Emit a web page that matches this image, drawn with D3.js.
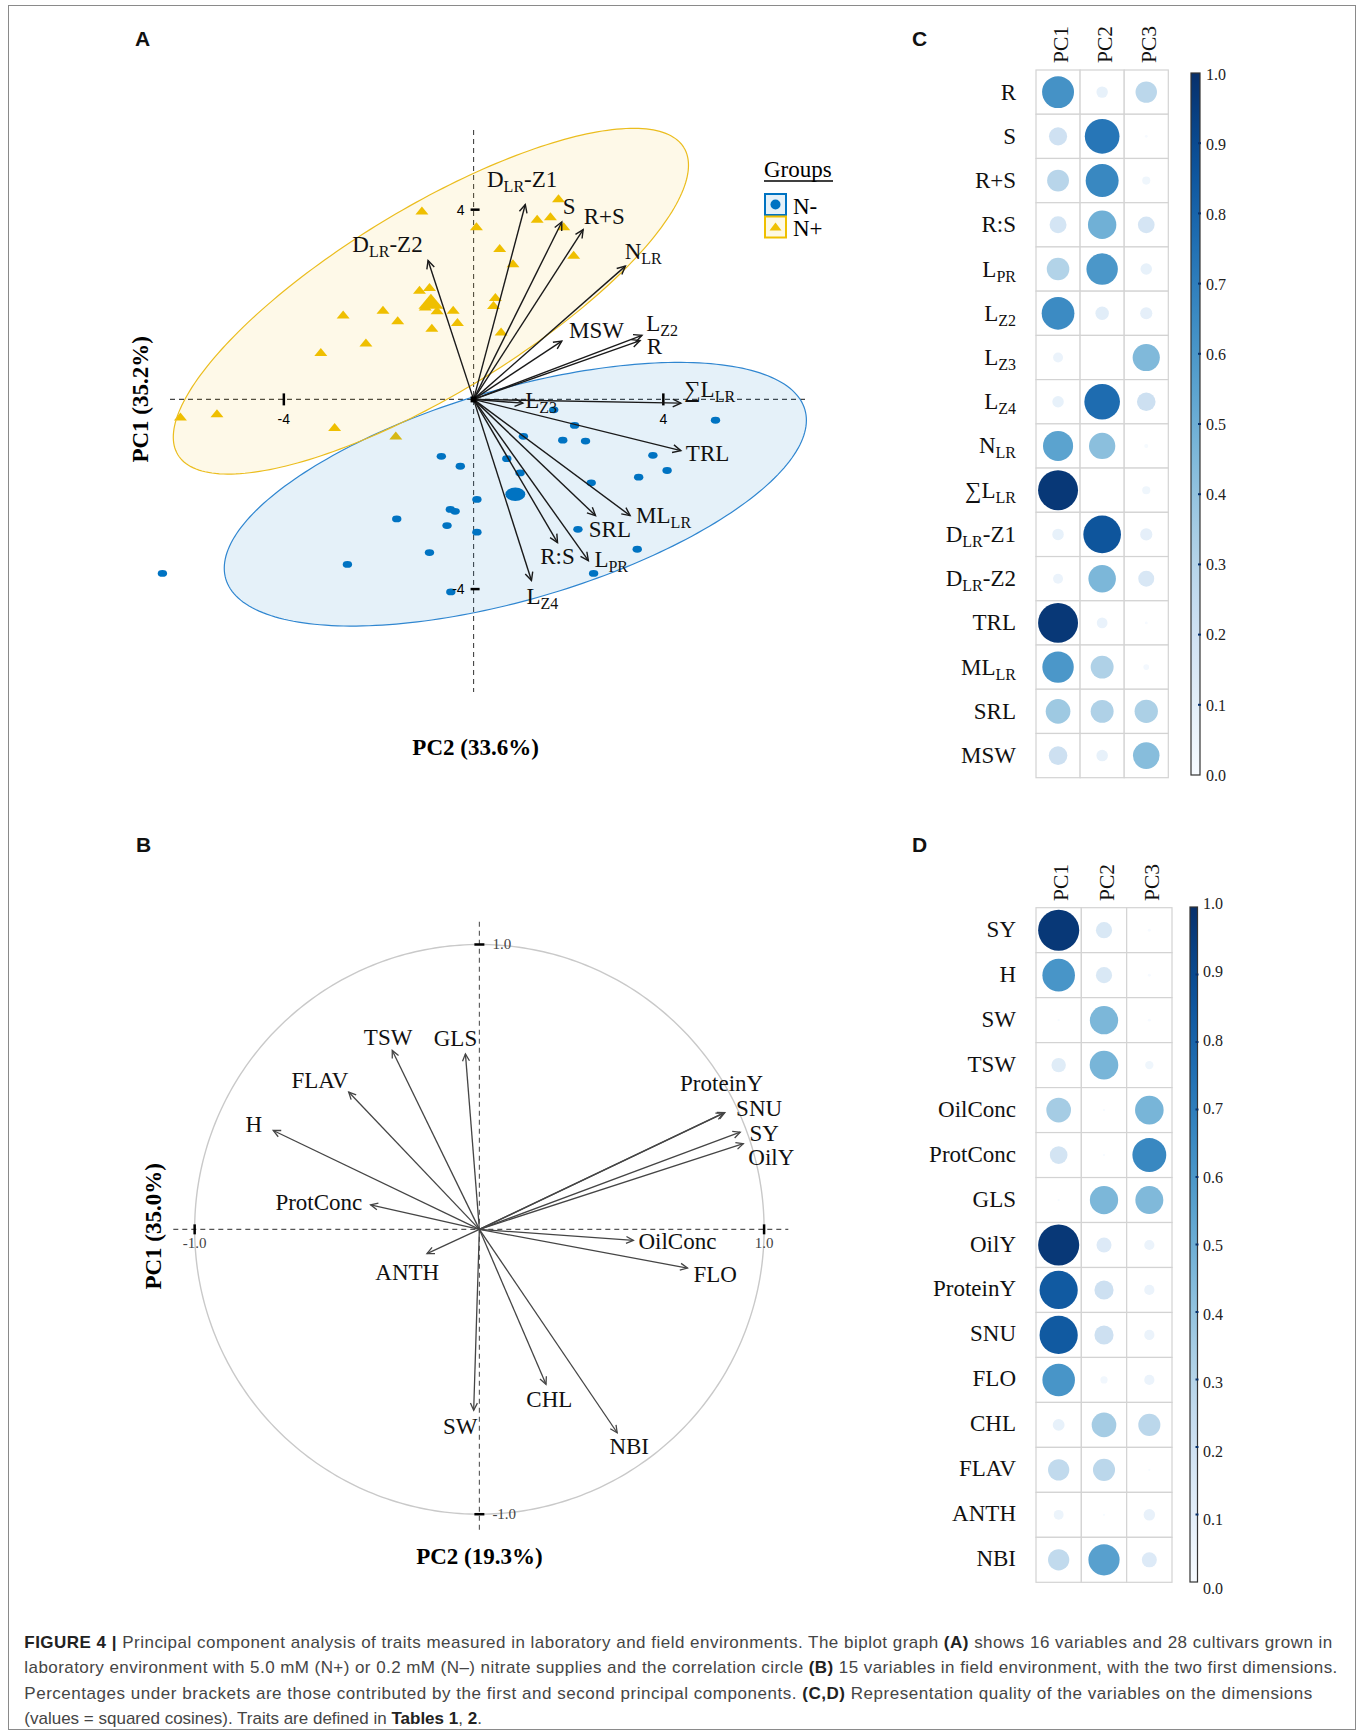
<!DOCTYPE html>
<html>
<head>
<meta charset="utf-8">
<script src="https://cdn.jsdelivr.net/npm/d3@7"></script>
<style>
  body { margin: 0; background: #fff; }
  svg text { font-family: "Liberation Serif", "Times New Roman", serif; }
</style>
</head>
<body>
<svg id="fig" width="1363" height="1733"></svg>
<script>
// ---------------- Panel A: laboratory biplot (individuals + variables) ----------------
const groupNames = ["N-", "N+"];
const groupColors = ["#0073C2", "#EFC000"];

// cultivar scores [PC2, PC1] for each nitrate level
const cultivarsNminus = [
  [-0.68,-1.20],[-0.28,-1.41],[0.07,-2.11],[-0.49,-2.32],[-0.39,-2.36],[-1.62,-2.52],
  [-0.56,-2.66],[0.07,-2.80],[-0.93,-3.23],[-2.66,-3.48],[-6.56,-3.67],[-0.48,-4.06],
  [1.05,-0.78],[0.70,-1.25],[0.98,-1.55],[1.69,-0.22],[2.13,-0.55],[1.88,-0.86],
  [2.36,-0.88],[3.78,-1.18],[4.08,-1.50],[3.48,-1.64],[5.10,-0.44],[2.48,-1.76],
  [2.20,-2.74],[3.45,-3.16],[2.53,-3.67]
];
const cultivarsNplus = [
  [-1.09,3.98],[0.06,3.65],[0.55,3.19],[-1.14,2.31],[-0.93,2.37],[-1.02,1.96],
  [-0.77,1.88],[-0.43,1.89],[-0.34,1.63],[-0.88,1.51],[-2.75,1.79],[-1.91,1.89],
  [-1.60,1.67],[-2.27,1.20],[-3.22,1.00],[-6.18,-0.36],[-5.41,-0.29],[-2.93,-0.58],
  [-1.64,-0.76],[0.46,2.16],[0.42,1.99],[0.58,1.43],[1.79,4.24],[1.34,3.81],
  [1.62,3.86],[1.90,3.65],[0.83,2.87],[2.11,3.05]
];
// group means (ellipse centres) and concentration ellipse shapes
const groupMeanX = [0.88, -0.90];
const groupMeanY = [-2.00, 2.07];
const ellipseSemiMajor = [6.36, 6.24];
const ellipseSemiMinor = [2.22, 1.96];
const ellipseTiltDeg = [16.3, 31.25];

// variable coordinates
const labVarNames = ["R","S","R+S","R:S","L_{PR}","L_{Z2}","L_{Z3}","L_{Z4}","N_{LR}","∑L_{LR}","D_{LR}-Z1","D_{LR}-Z2","TRL","ML_{LR}","SRL","MSW"];
const labVarPC2 = [3.51,1.86,2.31,1.77,2.42,3.55,1.04,1.22,3.20,4.37,1.09,-0.96,4.37,3.30,2.57,1.86];
const labVarPC1 = [1.24,3.74,3.58,-3.02,-3.40,1.35,-0.08,-3.82,2.81,-0.08,4.11,2.93,-1.08,-2.45,-2.45,1.23];
const axisTicksA = [-4, 4];

// ---------------- Panel B: field correlation circle ----------------
const fieldVarNames = ["SY","H","SW","TSW","OilConc","ProtConc","GLS","OilY","ProteinY","SNU","FLO","CHL","FLAV","ANTH","NBI"];
const fieldVarPC2 = [0.916,-0.724,-0.020,-0.306,0.541,-0.382,-0.049,0.927,0.857,0.862,0.731,0.234,-0.459,-0.184,0.484];
const fieldVarPC1 = [0.341,0.347,-0.635,0.628,-0.039,0.086,0.616,0.301,0.408,0.410,-0.136,-0.544,0.482,-0.085,-0.714];
const axisTicksB = [-1, 1];

// ---------------- Panels C and D: squared cosines ----------------
const dims = ["PC1","PC2","PC3"];
const labTraits = ["R","S","R+S","R:S","L_{PR}","L_{Z2}","L_{Z3}","L_{Z4}","N_{LR}","∑L_{LR}","D_{LR}-Z1","D_{LR}-Z2","TRL","ML_{LR}","SRL","MSW"];
const labCos2PC1 = [0.62,0.20,0.29,0.175,0.31,0.65,0.06,0.08,0.55,0.97,0.08,0.06,0.97,0.60,0.37,0.21];
const labCos2PC2 = [0.08,0.73,0.66,0.49,0.60,0.11,0.00,0.77,0.42,0.00,0.86,0.46,0.07,0.32,0.32,0.08];
const labCos2PC3 = [0.28,0.005,0.04,0.17,0.08,0.09,0.45,0.21,0.01,0.04,0.09,0.155,0.005,0.02,0.33,0.43];

const fieldTraits = ["SY","H","SW","TSW","OilConc","ProtConc","GLS","OilY","ProteinY","SNU","FLO","CHL","FLAV","ANTH","NBI"];
const fieldCos2PC1 = [0.97,0.61,0.003,0.12,0.35,0.18,0.003,0.97,0.84,0.84,0.61,0.08,0.26,0.056,0.26];
const fieldCos2PC2 = [0.15,0.15,0.46,0.47,0.003,0.003,0.46,0.13,0.21,0.21,0.03,0.35,0.28,0.003,0.56];
const fieldCos2PC3 = [0.005,0.005,0.005,0.04,0.47,0.66,0.45,0.06,0.06,0.06,0.06,0.28,0.003,0.076,0.13];
const colorbarTicks = [0,0.1,0.2,0.3,0.4,0.5,0.6,0.7,0.8,0.9,1.0];

// ---------------- caption ----------------
const captionLines = [
  [["FIGURE 4 | ", true], ["Principal component analysis of traits measured in laboratory and field environments. The biplot graph ", false], ["(A)", true], [" shows 16 variables and 28 cultivars grown in", false]],
  [["laboratory environment with 5.0 mM (N+) or 0.2 mM (N–) nitrate supplies and the correlation circle ", false], ["(B)", true], [" 15 variables in field environment, with the two first dimensions.", false]],
  [["Percentages under brackets are those contributed by the first and second principal components. ", false], ["(C,D)", true], [" Representation quality of the variables on the dimensions", false]],
  [["(values = squared cosines). Traits are defined in ", false], ["Tables 1", true], [", ", false], ["2", true], [".", false]]
];

// ================= layout & drawing =================
const SERIF = '"Liberation Serif","Times New Roman",serif';
const SANS = '"Liberation Sans",Arial,sans-serif';
const svg = d3.select("#fig");

svg.append("rect").attr("x", 8.5).attr("y", 5.5).attr("width", 1347).attr("height", 1724)
  .attr("fill", "none").attr("stroke", "#8a8a8a").attr("stroke-width", 1);

[["A",135,46],["B",136,852],["C",912,46],["D",912,852]].forEach(([t,x,y]) =>
  svg.append("text").attr("x", x).attr("y", y).text(t)
    .style("font-family", SANS).attr("font-weight", "bold").attr("font-size", 21).attr("fill", "#111"));

// label text with "_{...}" subscripts
function richText(sel, str, subSize, shift) {
  const parts = str.split(/_\{([^}]*)\}/);
  let down = false;
  parts.forEach((p, i) => {
    if (!p) return;
    const t = sel.append("tspan").text(p);
    if (i % 2 === 1) { t.attr("font-size", subSize).attr("dy", shift); down = true; }
    else if (down) { t.attr("dy", -shift); down = false; }
  });
  return sel;
}
function arrowHeadPath(x0, y0, x1, y1, len, ang) {
  const a = Math.atan2(y1 - y0, x1 - x0);
  const p1 = [x1 - len * Math.cos(a - ang), y1 - len * Math.sin(a - ang)];
  const p2 = [x1 - len * Math.cos(a + ang), y1 - len * Math.sin(a + ang)];
  return `M${p1[0]},${p1[1]}L${x1},${y1}L${p2[0]},${p2[1]}`;
}
function ellipsePoints(cx, cy, a, b, tiltDeg, n) {
  const t = tiltDeg * Math.PI / 180;
  return d3.range(n + 1).map(i => {
    const u = 2 * Math.PI * i / n, ex = a * Math.cos(u), ey = b * Math.sin(u);
    return [cx + ex * Math.cos(t) - ey * Math.sin(t), cy + ex * Math.sin(t) + ey * Math.cos(t)];
  });
}

// ---------- Panel A ----------
{
  const x = d3.scaleLinear().domain([-6.4, 7.05]).range([170, 808]);
  const y = d3.scaleLinear().domain([5.68, -6.17]).range([130, 692]);
  const g = svg.append("g");
  const x0 = x(0), y0 = y(0);

  g.append("line").attr("x1", x(-6.4)).attr("x2", x(7.05)).attr("y1", y0).attr("y2", y0)
    .attr("stroke", "#444").attr("stroke-dasharray", "5,4").attr("stroke-width", 1.1);
  g.append("line").attr("x1", x0).attr("x2", x0).attr("y1", y(5.68)).attr("y2", y(-6.17))
    .attr("stroke", "#444").attr("stroke-dasharray", "5,4").attr("stroke-width", 1.1);

  // cultivar markers
  const triPath = (cx, cy, w, h) => `M${cx - w/2},${cy + h/2}L${cx},${cy - h/2}L${cx + w/2},${cy + h/2}Z`;
  g.selectAll("ellipse.nminus").data(cultivarsNminus).join("ellipse").attr("class", "nminus")
    .attr("cx", d => x(d[0])).attr("cy", d => y(d[1])).attr("rx", 4.7).attr("ry", 3.4)
    .attr("fill", groupColors[0]);
  g.selectAll("path.nplus").data(cultivarsNplus).join("path").attr("class", "nplus")
    .attr("d", d => triPath(x(d[0]), y(d[1]), 13, 8)).attr("fill", groupColors[1]);
  g.append("ellipse").attr("cx", x(groupMeanX[0])).attr("cy", y(groupMeanY[0]))
    .attr("rx", 10).attr("ry", 6.7).attr("fill", groupColors[0]);
  g.append("path").attr("d", triPath(x(groupMeanX[1]), y(groupMeanY[1]), 25, 15)).attr("fill", groupColors[1]);

  // concentration ellipses
  const line = d3.line().x(d => x(d[0])).y(d => y(d[1]));
  const fillOpacity = [0.1, 0.09];
  const strokeColors = ["#2f86d0", "#ebbd1e"];
  groupNames.forEach((n, i) => {
    g.append("path")
      .attr("d", line(ellipsePoints(groupMeanX[i], groupMeanY[i], ellipseSemiMajor[i], ellipseSemiMinor[i], ellipseTiltDeg[i], 240)))
      .attr("fill", groupColors[i]).attr("fill-opacity", fillOpacity[i])
      .attr("stroke", strokeColors[i]).attr("stroke-width", 1.2);
  });

  // axis ticks at +-4
  axisTicksA.forEach(v => {
    g.append("line").attr("x1", x0 - 3).attr("x2", x0 + 6).attr("y1", y(v)).attr("y2", y(v))
      .attr("stroke", "#000").attr("stroke-width", 2.5);
    g.append("line").attr("x1", x(v)).attr("x2", x(v)).attr("y1", y0 - 6).attr("y2", y0 + 6)
      .attr("stroke", "#000").attr("stroke-width", 2.5);
    g.append("text").attr("x", x0 - 9).attr("y", y(v)).attr("dy", "0.35em").attr("text-anchor", "end")
      .style("font-family", SANS).attr("font-size", 14).text(v);
    g.append("text").attr("x", x(v)).attr("y", y0 + 25).attr("text-anchor", "middle")
      .style("font-family", SANS).attr("font-size", 14).text(v);
  });

  // variable arrows
  const labNudge = {
    "D_{LR}-Z2": [-75.7, -8], "D_{LR}-Z1": [-38.3, -17], "S": [1, -7.7], "R+S": [0.6, -6],
    "N_{LR}": [-0.7, -7.4], "MSW": [7.3, -3], "L_{Z2}": [4.3, -4.3], "R": [6.7, 13.3],
    "∑L_{LR}": [3.3, -6], "L_{Z3}": [2.3, 5.3], "TRL": [5, 10.7], "ML_{LR}": [6, 7.7],
    "SRL": [-6.7, 21.7], "L_{PR}": [6, 6], "R:S": [-17.3, 21.7], "L_{Z4}": [-5, 23.3]
  };
  labVarNames.forEach((name, i) => {
    const tx = x(labVarPC2[i]), ty = y(labVarPC1[i]);
    g.append("line").attr("x1", x0).attr("y1", y0).attr("x2", tx).attr("y2", ty)
      .attr("stroke", "#1a1a1a").attr("stroke-width", 1.4);
    g.append("path").attr("d", arrowHeadPath(x0, y0, tx, ty, 9, 0.45))
      .attr("fill", "none").attr("stroke", "#1a1a1a").attr("stroke-width", 1.4);
    const nd = labNudge[name];
    richText(g.append("text").attr("x", tx + nd[0]).attr("y", ty + nd[1])
      .attr("font-size", 23).attr("fill", "#111"), name, 16, 5);
  });
  g.append("rect").attr("x", x0 - 3).attr("y", y0 - 3).attr("width", 6).attr("height", 6).attr("fill", "#000");

  // axis titles
  g.append("text").attr("transform", `translate(148,${y0}) rotate(-90)`).attr("text-anchor", "middle")
    .attr("font-weight", "bold").attr("font-size", 23).text("PC1 (35.2%)");
  g.append("text").attr("x", x0 + 2).attr("y", 755).attr("text-anchor", "middle")
    .attr("font-weight", "bold").attr("font-size", 23).text("PC2 (33.6%)");

  // legend
  const lg = svg.append("g");
  lg.append("text").attr("x", 764).attr("y", 177).attr("font-size", 23).text("Groups");
  lg.append("line").attr("x1", 764).attr("x2", 833).attr("y1", 181).attr("y2", 181)
    .attr("stroke", "#000").attr("stroke-width", 1.3);
  groupNames.forEach((n, i) => {
    const by = 194 + i * 22.5;
    lg.append("rect").attr("x", 765).attr("y", by).attr("width", 21).attr("height", 21)
      .attr("fill", groupColors[i]).attr("fill-opacity", 0.1)
      .attr("stroke", groupColors[i]).attr("stroke-width", 2);
    if (i === 0) lg.append("circle").attr("cx", 775.5).attr("cy", by + 10.5).attr("r", 5).attr("fill", groupColors[0]);
    else lg.append("path").attr("d", triPath(775.5, by + 10, 12, 8)).attr("fill", groupColors[1]);
    lg.append("text").attr("x", 793).attr("y", by + 19.5).attr("font-size", 23).text(n);
  });
}

// ---------- Panel B ----------
{
  const x = d3.scaleLinear().domain([-1.075, 1.085]).range([173.3, 788.3]);
  const y = d3.scaleLinear().domain([1.08, -1.067]).range([921.7, 1533.3]);
  const g = svg.append("g");
  const x0 = x(0), y0 = y(0);

  const circle = d3.range(361).map(i => [Math.cos(i * Math.PI / 180), Math.sin(i * Math.PI / 180)]);
  g.append("path").attr("d", d3.line().x(d => x(d[0])).y(d => y(d[1]))(circle))
    .attr("fill", "none").attr("stroke", "#c9c9c9").attr("stroke-width", 1.4);

  g.append("line").attr("x1", x(-1.075)).attr("x2", x(1.085)).attr("y1", y0).attr("y2", y0)
    .attr("stroke", "#555").attr("stroke-dasharray", "5,4").attr("stroke-width", 1.1);
  g.append("line").attr("x1", x0).attr("x2", x0).attr("y1", y(1.08)).attr("y2", y(-1.067))
    .attr("stroke", "#555").attr("stroke-dasharray", "5,4").attr("stroke-width", 1.1);

  axisTicksB.forEach(v => {
    g.append("line").attr("x1", x0 - 5).attr("x2", x0 + 5).attr("y1", y(v)).attr("y2", y(v))
      .attr("stroke", "#000").attr("stroke-width", 2.5);
    g.append("line").attr("x1", x(v)).attr("x2", x(v)).attr("y1", y0 - 5).attr("y2", y0 + 5)
      .attr("stroke", "#000").attr("stroke-width", 2.5);
    g.append("text").attr("x", x0 + 13).attr("y", y(v)).attr("dy", "0.33em")
      .attr("font-size", 15).attr("fill", "#444").text(d3.format(".1f")(v).replace("−", "-"));
    g.append("text").attr("x", x(v)).attr("y", y0 + 19).attr("text-anchor", "middle")
      .attr("font-size", 15).attr("fill", "#444").text(d3.format(".1f")(v).replace("−", "-"));
  });

  const fieldNudge = {
    "SY": [9.3, 8.3, "start"], "H": [-27.7, 1.7, "start"], "SW": [-30.6, 24, "start"], "TSW": [-28.4, -5, "start"],
    "OilConc": [5, 8.3, "start"], "ProtConc": [-8.3, 4.8, "end"], "GLS": [-31.7, -8.3, "start"],
    "OilY": [5, 21.4, "start"], "ProteinY": [-43.3, -22.5, "start"], "SNU": [11.3, 3.5, "start"],
    "FLO": [6, 14, "start"], "CHL": [-19.7, 22.7, "start"], "FLAV": [-57.3, -4, "start"],
    "ANTH": [-51.7, 26.7, "start"], "NBI": [-7.8, 21, "start"]
  };
  fieldVarNames.forEach((name, i) => {
    const tx = x(fieldVarPC2[i]), ty = y(fieldVarPC1[i]);
    g.append("line").attr("x1", x0).attr("y1", y0).attr("x2", tx).attr("y2", ty)
      .attr("stroke", "#454545").attr("stroke-width", 1.3);
    g.append("path").attr("d", arrowHeadPath(x0, y0, tx, ty, 8, 0.45))
      .attr("fill", "none").attr("stroke", "#454545").attr("stroke-width", 1.3);
    const nd = fieldNudge[name];
    g.append("text").attr("x", tx + nd[0]).attr("y", ty + nd[1]).attr("text-anchor", nd[2])
      .attr("font-size", 23).attr("fill", "#111").text(name);
  });

  g.append("text").attr("transform", `translate(161,${y0 - 3}) rotate(-90)`).attr("text-anchor", "middle")
    .attr("font-weight", "bold").attr("font-size", 23).text("PC1 (35.0%)");
  g.append("text").attr("x", x0).attr("y", 1564).attr("text-anchor", "middle")
    .attr("font-weight", "bold").attr("font-size", 23).text("PC2 (19.3%)");
}

// ---------- Panels C and D (corrplot) ----------
const colorQ = d3.scaleSequential(d3.interpolateBlues).domain([0, 1]);
function corrPanel(o) {
  const g = svg.append("g");
  const x = d3.scaleBand().domain(dims).range(o.xRange);
  const y = d3.scaleBand().domain(o.rows).range(o.yRange);
  const r = d3.scaleSqrt().domain([0, 1]).range([0, x.bandwidth() * 0.46]);
  const cells = [];
  o.rows.forEach((row, i) => dims.forEach((d, j) => cells.push({ row, dim: d, v: o.cols[j][i] })));

  g.selectAll("rect.cell").data(cells).join("rect").attr("class", "cell")
    .attr("x", d => x(d.dim)).attr("y", d => y(d.row))
    .attr("width", x.bandwidth()).attr("height", y.bandwidth())
    .attr("fill", "#fff").attr("stroke", "#d3d3d3").attr("stroke-width", 1.2);
  g.selectAll("circle.q").data(cells.filter(d => d.v > 0)).join("circle").attr("class", "q")
    .attr("cx", d => x(d.dim) + x.bandwidth() / 2).attr("cy", d => y(d.row) + y.bandwidth() / 2)
    .attr("r", d => r(d.v)).attr("fill", d => colorQ(d.v));

  o.rows.forEach(row => richText(g.append("text").attr("x", 1016).attr("y", y(row) + y.bandwidth() / 2 + o.rowShift)
    .attr("text-anchor", "end").attr("font-size", 23).attr("fill", "#111"), row, 16, 5));
  dims.forEach(d => g.append("text")
    .attr("transform", `translate(${x(d) + x.bandwidth() / 2 + 9.5},${o.headY}) rotate(-90)`)
    .attr("font-size", 21.5).attr("fill", "#111").text(d));

  // colour bar
  const gid = "grad" + o.id;
  const grad = svg.append("defs").append("linearGradient").attr("id", gid)
    .attr("x1", 0).attr("y1", 1).attr("x2", 0).attr("y2", 0);
  d3.range(0, 1.0001, 0.05).forEach(t => grad.append("stop").attr("offset", t).attr("stop-color", colorQ(t)));
  const cb = o.cbar;
  g.append("rect").attr("x", cb.x).attr("y", cb.y0).attr("width", cb.w).attr("height", cb.y1 - cb.y0)
    .attr("fill", `url(#${gid})`).attr("stroke", "#333").attr("stroke-width", 1.2);
  const barY = d3.scaleLinear().domain([0, 1]).range([cb.y1, cb.y0]);
  const labY = d3.scaleLinear().domain([0, 1]).range(cb.labelRange);
  colorbarTicks.forEach(t => {
    if (t > 0 && t < 1) g.append("line").attr("x1", cb.x + cb.w - 2).attr("x2", cb.x + cb.w + 1)
      .attr("y1", barY(t)).attr("y2", barY(t)).attr("stroke", "#08306b").attr("stroke-width", 2);
    g.append("text").attr("x", cb.labelX).attr("y", labY(t)).attr("dy", "0.35em")
      .attr("font-size", 16).attr("fill", "#222").text(d3.format(".1f")(t));
  });
}
corrPanel({ id: "C", rows: labTraits, cols: [labCos2PC1, labCos2PC2, labCos2PC3],
  xRange: [1036, 1168.3], yRange: [70, 777.7], rowShift: 7.5, headY: 63,
  cbar: { x: 1191, w: 9, y0: 73, y1: 775, labelX: 1206, labelRange: [775, 74] } });
corrPanel({ id: "D", rows: fieldTraits, cols: [fieldCos2PC1, fieldCos2PC2, fieldCos2PC3],
  xRange: [1036, 1172], yRange: [907.7, 1582.3], rowShift: 6.5, headY: 901,
  cbar: { x: 1190, w: 7.5, y0: 907, y1: 1582, labelX: 1203, labelRange: [1588, 903] } });

// ---------- caption ----------
{
  const baselines = [1648, 1673.3, 1698.6, 1723.8];
  const widths = [1308, 1313, 1288, null];
  captionLines.forEach((parts, i) => {
    const t = svg.append("text").attr("x", 24.3).attr("y", baselines[i])
      .style("font-family", SANS).attr("font-size", 17).attr("fill", "#454545");
    parts.forEach(([s, b]) => {
      const sp = t.append("tspan").text(s);
      if (b) sp.attr("font-weight", "bold").attr("fill", "#222");
    });
    if (widths[i]) t.attr("textLength", widths[i]).attr("lengthAdjust", "spacing");
  });
}
</script>
</body>
</html>
